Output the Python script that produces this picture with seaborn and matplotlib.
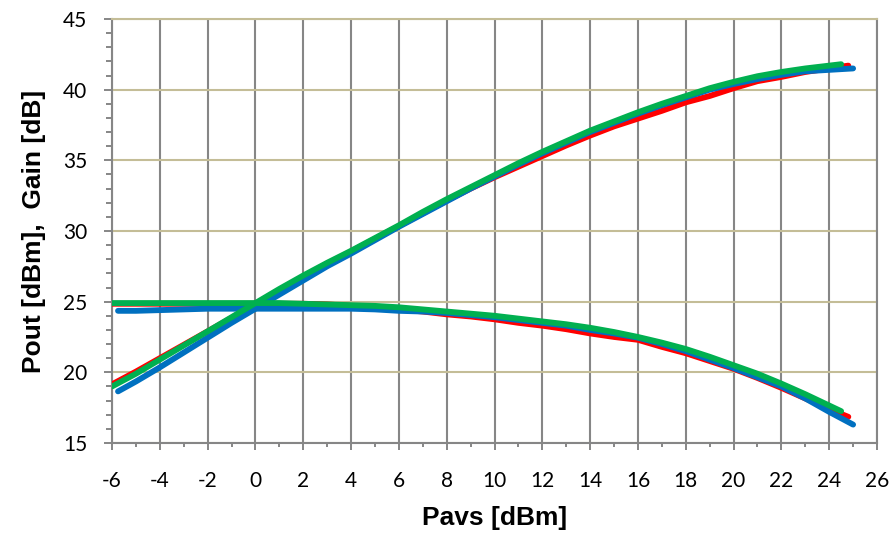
import numpy as np
import pandas as pd
import matplotlib
matplotlib.use('Agg')
import matplotlib.pyplot as plt
import seaborn as sns

# ---------------------------------------------------------------------------
# Data read off the reference chart (three measurement sets: red, blue, green)
# ---------------------------------------------------------------------------
pavs_red = [-6, -5, -4, -3, -2, -1, 0, 1, 2, 3, 4, 5, 6, 7, 8, 9, 10, 11, 12,
            13, 14, 15, 16, 17, 18, 19, 20, 21, 22, 23, 24, 24.8]
pout_red = [19.15, 20.05, 21.0, 21.95, 22.9, 23.85, 24.85, 25.8, 26.75, 27.7,
            28.55, 29.45, 30.35, 31.25, 32.15, 33.0, 33.8, 34.55, 35.3, 36.05,
            36.75, 37.4, 37.95, 38.5, 39.1, 39.55, 40.1, 40.6, 40.9, 41.25,
            41.5, 41.7]
gain_red = [24.85, 24.85, 24.85, 24.85, 24.85, 24.85, 24.85, 24.85, 24.85,
            24.8, 24.7, 24.6, 24.45, 24.3, 24.1, 23.95, 23.75, 23.5, 23.3,
            23.05, 22.75, 22.5, 22.3, 21.8, 21.35, 20.8, 20.25, 19.6, 18.9,
            18.15, 17.4, 16.85]

pavs_blue = [-5.75, -5, -4, -3, -2, -1, 0, 1, 2, 3, 4, 5, 6, 7, 8, 9, 10, 11,
             12, 13, 14, 15, 16, 17, 18, 19, 20, 21, 22, 23, 24, 25]
pout_blue = [18.65, 19.35, 20.35, 21.4, 22.45, 23.5, 24.5, 25.5, 26.5, 27.5,
             28.4, 29.35, 30.3, 31.2, 32.1, 33.0, 33.85, 34.7, 35.5, 36.25,
             37.0, 37.65, 38.3, 38.9, 39.45, 40.0, 40.4, 40.75, 41.05, 41.3,
             41.4, 41.5]
gain_blue = [24.35, 24.35, 24.4, 24.45, 24.5, 24.5, 24.5, 24.5, 24.5, 24.5,
             24.5, 24.45, 24.35, 24.3, 24.2, 24.05, 23.9, 23.7, 23.5, 23.3,
             23.0, 22.75, 22.45, 22.0, 21.5, 20.9, 20.3, 19.65, 19.0, 18.15,
             17.2, 16.3]

pavs_green = [-6, -5, -4, -3, -2, -1, 0, 1, 2, 3, 4, 5, 6, 7, 8, 9, 10, 11,
              12, 13, 14, 15, 16, 17, 18, 19, 20, 21, 22, 23, 24, 24.5]
pout_green = [19.0, 19.9, 20.9, 21.9, 22.9, 23.9, 24.9, 25.9, 26.85, 27.75,
              28.6, 29.5, 30.4, 31.35, 32.25, 33.1, 33.95, 34.8, 35.6, 36.35,
              37.1, 37.75, 38.4, 39.0, 39.55, 40.1, 40.55, 40.95, 41.25, 41.5,
              41.7, 41.8]
gain_green = [24.9, 24.9, 24.9, 24.9, 24.9, 24.9, 24.9, 24.9, 24.85, 24.8,
              24.75, 24.7, 24.6, 24.45, 24.3, 24.15, 24.0, 23.8, 23.6, 23.4,
              23.15, 22.85, 22.5, 22.1, 21.65, 21.1, 20.5, 19.9, 19.2, 18.45,
              17.65, 17.25]

x_ticks = list(range(-6, 27, 2))
y_ticks = list(range(15, 46, 5))

# ---------------------------------------------------------------------------
# Plot
# ---------------------------------------------------------------------------
sns.set_style('white')
plt.rcParams['font.family'] = ['Lato', 'DejaVu Sans']
plt.rcParams['axes.unicode_minus'] = False

GRID_GRAY = '#868686'
GRID_TAN = '#C4BD97'

fig = plt.figure(figsize=(8.92, 5.33), dpi=100)
ax = fig.add_axes([0.1256, 0.1689, 0.8576, 0.7955])

series = [
    ('red', '#FF0000', pavs_red, pout_red, gain_red),
    ('blue', '#0070C0', pavs_blue, pout_blue, gain_blue),
    ('green', '#00B050', pavs_green, pout_green, gain_green),
]
for name, color, pavs, pout, gain in series:
    df = pd.DataFrame({'Pavs': pavs, 'Pout': pout, 'Gain': gain})
    for col in ['Pout', 'Gain']:
        sns.lineplot(data=df, x='Pavs', y=col, color=color, linewidth=4.2,
                     sort=False, estimator=None, ax=ax,
                     solid_capstyle='round', solid_joinstyle='round', zorder=3)

ax.set_xlim(-6, 26)
ax.set_ylim(15, 45)
ax.set_xticks(x_ticks)
ax.set_xticks(range(-5, 26, 2), minor=True)
ax.set_yticks(y_ticks)
ax.set_yticks(range(15, 46, 1), minor=True)

ax.xaxis.grid(True, which='major', color=GRID_GRAY, linewidth=1.5)
ax.yaxis.grid(True, which='major', color=GRID_TAN, linewidth=1.5)
ax.set_axisbelow(True)

for side in ['left', 'bottom', 'right']:
    ax.spines[side].set_color(GRID_GRAY)
    ax.spines[side].set_linewidth(1.5)
ax.spines['top'].set_color(GRID_TAN)
ax.spines['top'].set_linewidth(1.5)

ax.tick_params(axis='both', which='both', direction='out', color=GRID_GRAY,
               width=1.4, labelsize=15, labelcolor='black')
ax.tick_params(axis='y', which='major', length=5.8, pad=12, left=True)
ax.tick_params(axis='y', which='minor', length=4.3, left=True)
ax.tick_params(axis='x', which='major', length=5, pad=15, bottom=True)
ax.tick_params(axis='x', which='minor', length=3, bottom=True)

ax.set_xlabel('Pavs [dBm]', fontsize=19, fontweight='bold', color='black',
              family=['Liberation Sans', 'DejaVu Sans'], labelpad=11)
ax.set_ylabel('Pout [dBm],  Gain [dB]', fontsize=19, fontweight='bold',
              color='black', family=['Liberation Sans', 'DejaVu Sans'],
              labelpad=12)

fig.savefig('out.png', dpi=100)
